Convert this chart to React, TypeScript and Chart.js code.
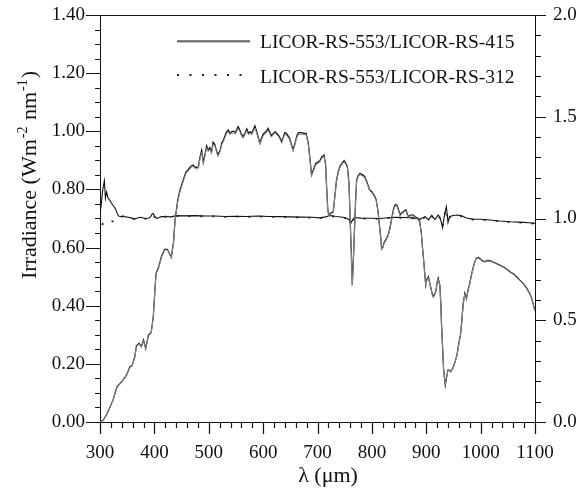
import { useEffect, useRef } from "react";
import { Chart, registerables } from "chart.js";

Chart.register(...registerables);

// Global irradiance spectra (W m^-2 nm^-1) sampled at these wavelengths (nm)
const wavelengths = [
  300, 306, 312, 318, 324, 331, 340, 349, 355, 359, 364, 367, 372, 376, 380, 384, 389, 394, 398, 401,
  403, 408, 413, 419, 424, 431, 435, 438, 443, 447, 453, 458, 462, 467, 471, 476, 481, 484, 487, 490,
  493, 496, 499, 502, 505, 508, 511, 514, 517, 521, 524, 527, 530, 533, 536, 539, 542, 545, 549, 554,
  557, 560, 563, 567, 570, 573, 576, 579, 582, 585, 588, 591, 594, 597, 600, 603, 606, 609, 612, 615,
  619, 622, 625, 628, 631, 634, 637, 640, 644, 649, 652, 655, 658, 662, 665, 670, 675, 679, 683, 686,
  689, 693, 697, 700, 704, 708, 712, 715, 717, 719, 721, 725, 729, 732, 735, 738, 741, 745, 749, 752,
  755, 758, 760, 762, 764, 766, 768, 770, 772, 775, 778, 783, 787, 791, 796, 800, 802, 805, 808, 811,
  813, 816, 818, 820, 822, 826, 830, 833, 836, 840, 843, 846, 849, 852, 855, 858, 861, 863, 865, 867,
  871, 876, 880, 885, 888, 891, 893, 896, 899, 901, 904, 906, 908, 911, 913, 916, 918, 920, 922, 925,
  927, 928, 930, 932, 935, 937, 940, 943, 945, 949, 953, 957, 960, 963, 965, 968, 971, 974, 977, 980,
  983, 986, 989, 992, 995, 998, 1003, 1008, 1012, 1017, 1025, 1035, 1045, 1054, 1060, 1066, 1072, 1078, 1084, 1090,
  1094, 1098, 1100,
];

// LICOR-RS-553
const irradiance553 = [
  0.000, 0.007, 0.025, 0.050, 0.076, 0.120, 0.139, 0.162, 0.190, 0.194, 0.225, 0.262, 0.270, 0.259, 0.282, 0.253, 0.299, 0.307, 0.362, 0.454,
  0.511, 0.534, 0.569, 0.594, 0.594, 0.566, 0.615, 0.695, 0.764, 0.798, 0.832, 0.860, 0.867, 0.880, 0.884, 0.875, 0.878, 0.913, 0.935, 0.893,
  0.920, 0.950, 0.935, 0.944, 0.928, 0.962, 0.955, 0.935, 0.918, 0.935, 0.960, 0.970, 0.985, 0.999, 1.004, 0.993, 0.998, 1.000, 0.996, 1.016,
  1.005, 0.990, 0.981, 0.995, 1.008, 0.993, 0.998, 0.993, 1.006, 1.018, 1.000, 0.981, 0.959, 0.975, 0.990, 0.995, 1.000, 1.010, 0.998, 0.985,
  0.993, 0.999, 0.993, 0.987, 0.978, 0.964, 0.980, 0.996, 0.990, 0.975, 0.955, 0.936, 0.955, 0.985, 0.995, 0.995, 0.993, 0.993, 0.960, 0.910,
  0.850, 0.870, 0.890, 0.893, 0.898, 0.912, 0.918, 0.885, 0.800, 0.729, 0.712, 0.720, 0.723, 0.780, 0.832, 0.860, 0.878, 0.890, 0.899, 0.890,
  0.878, 0.820, 0.700, 0.592, 0.471, 0.560, 0.660, 0.760, 0.832, 0.848, 0.855, 0.850, 0.844, 0.825, 0.798, 0.792, 0.786, 0.777, 0.764, 0.730,
  0.695, 0.640, 0.595, 0.600, 0.615, 0.628, 0.643, 0.665, 0.695, 0.735, 0.748, 0.746, 0.730, 0.712, 0.720, 0.723, 0.728, 0.729, 0.716, 0.706,
  0.712, 0.712, 0.705, 0.701, 0.689, 0.650, 0.603, 0.540, 0.471, 0.490, 0.500, 0.482, 0.465, 0.440, 0.431, 0.440, 0.454, 0.480, 0.494, 0.471,
  0.400, 0.340, 0.260, 0.179, 0.127, 0.150, 0.179, 0.178, 0.173, 0.185, 0.207, 0.235, 0.271, 0.300, 0.340, 0.408, 0.443, 0.425, 0.455, 0.477,
  0.505, 0.529, 0.550, 0.563, 0.566, 0.563, 0.555, 0.551, 0.556, 0.555, 0.548, 0.540, 0.530, 0.517, 0.510, 0.500, 0.488, 0.477, 0.462, 0.443,
  0.425, 0.397, 0.383,
];

// LICOR-RS-415
const irradiance415 = [
  0.000, 0.006, 0.024, 0.049, 0.075, 0.118, 0.138, 0.161, 0.188, 0.193, 0.223, 0.260, 0.268, 0.258, 0.280, 0.252, 0.297, 0.305, 0.360, 0.451,
  0.508, 0.531, 0.566, 0.591, 0.592, 0.564, 0.612, 0.690, 0.758, 0.792, 0.826, 0.855, 0.862, 0.874, 0.879, 0.870, 0.873, 0.906, 0.928, 0.888,
  0.914, 0.944, 0.930, 0.938, 0.923, 0.955, 0.950, 0.930, 0.913, 0.930, 0.954, 0.964, 0.979, 0.992, 0.998, 0.988, 0.992, 0.994, 0.990, 1.009,
  0.999, 0.985, 0.976, 0.989, 1.002, 0.988, 0.992, 0.988, 1.000, 1.011, 0.994, 0.976, 0.954, 0.970, 0.984, 0.989, 0.994, 1.003, 0.992, 0.980,
  0.987, 0.993, 0.988, 0.982, 0.973, 0.959, 0.975, 0.990, 0.984, 0.970, 0.950, 0.931, 0.950, 0.979, 0.989, 0.990, 0.988, 0.988, 0.955, 0.905,
  0.846, 0.866, 0.885, 0.888, 0.893, 0.907, 0.913, 0.880, 0.796, 0.726, 0.709, 0.717, 0.720, 0.776, 0.828, 0.856, 0.874, 0.886, 0.895, 0.886,
  0.874, 0.816, 0.697, 0.590, 0.470, 0.558, 0.657, 0.756, 0.828, 0.844, 0.851, 0.846, 0.840, 0.821, 0.795, 0.789, 0.783, 0.774, 0.761, 0.727,
  0.692, 0.638, 0.593, 0.598, 0.612, 0.625, 0.640, 0.662, 0.692, 0.731, 0.744, 0.742, 0.727, 0.709, 0.717, 0.720, 0.725, 0.726, 0.713, 0.703,
  0.709, 0.709, 0.702, 0.698, 0.686, 0.648, 0.601, 0.538, 0.470, 0.488, 0.498, 0.480, 0.463, 0.438, 0.429, 0.438, 0.452, 0.478, 0.492, 0.469,
  0.398, 0.339, 0.259, 0.178, 0.127, 0.149, 0.178, 0.177, 0.172, 0.184, 0.206, 0.234, 0.270, 0.299, 0.339, 0.406, 0.441, 0.423, 0.453, 0.475,
  0.503, 0.527, 0.548, 0.561, 0.564, 0.561, 0.553, 0.550, 0.554, 0.553, 0.547, 0.538, 0.528, 0.515, 0.508, 0.498, 0.486, 0.475, 0.460, 0.441,
  0.423, 0.395, 0.381,
];

// Instrument ratios plotted against the right-hand axis
const ratioWavelengths = [
  300, 302, 305, 308, 310, 312, 315, 318, 321, 325, 328, 331, 334, 338, 343, 347, 352, 358, 364, 370,
  376, 382, 389, 393, 396, 398, 401, 404, 408, 413, 420, 430, 441, 455, 475, 495, 511, 530, 550, 570,
  590, 610, 630, 650, 670, 690, 704, 715, 723, 735, 750, 758, 761, 764, 768, 780, 800, 815, 830, 845,
  860, 875, 888, 893, 898, 904, 910, 916, 922, 926, 930, 934, 937, 940, 943, 949, 958, 965, 974, 985,
  1000, 1017, 1035, 1054, 1078, 1090, 1100,
];

const ratio553to415 = [
  1.030, 1.060, 1.140, 1.185, 1.100, 1.130, 1.100, 1.090, 1.075, 1.060, 1.050, 1.030, 1.012, 1.010, 1.012, 1.008, 1.006, 1.002, 0.998, 1.004,
  1.006, 1.000, 1.001, 1.008, 1.022, 1.025, 1.008, 1.001, 1.004, 1.009, 1.010, 1.008, 1.014, 1.013, 1.014, 1.012, 1.012, 1.010, 1.011, 1.010,
  1.012, 1.010, 1.009, 1.008, 1.007, 1.006, 1.003, 1.008, 1.015, 1.010, 1.005, 0.995, 0.975, 0.990, 1.005, 1.002, 1.001, 1.000, 1.004, 1.006,
  1.005, 1.003, 0.996, 1.002, 1.009, 0.993, 1.015, 0.995, 1.017, 1.000, 0.955, 1.025, 1.058, 0.980, 1.009, 1.015, 1.017, 1.013, 1.002, 0.997,
  0.996, 0.993, 0.988, 0.984, 0.981, 0.979, 0.976,
];

const ratio553to312 = [
  0.910, 0.935, 0.975, 0.984, 0.982, 0.980, 0.986, 0.990, 0.987, 0.985, 0.984, 0.995, 1.005, 1.008, 1.010, 1.007, 1.005, 1.001, 0.997, 1.003,
  1.005, 0.999, 1.000, 1.006, 1.018, 1.020, 1.006, 1.000, 1.003, 1.008, 1.009, 1.007, 1.012, 1.011, 1.012, 1.010, 1.010, 1.008, 1.009, 1.008,
  1.010, 1.008, 1.007, 1.006, 1.005, 1.004, 1.001, 1.006, 1.012, 1.008, 1.003, 0.990, 0.979, 0.988, 1.003, 1.000, 0.999, 0.998, 1.002, 1.004,
  1.003, 1.001, 0.994, 1.000, 1.006, 0.991, 1.012, 0.993, 1.014, 0.998, 0.958, 1.020, 1.050, 0.982, 1.006, 1.012, 1.014, 1.011, 1.000, 0.995,
  0.994, 0.991, 0.986, 0.982, 0.979, 0.977, 0.974,
];

const irradianceTicks = [0, 0.2, 0.4, 0.6, 0.8, 1.0, 1.2, 1.4];
const ratioTicks = [0, 0.5, 1.0, 1.5, 2.0];
const wavelengthTicks = [300, 400, 500, 600, 700, 800, 900, 1000, 1100];

const legendLabels = ["LICOR-RS-553/LICOR-RS-415", "LICOR-RS-553/LICOR-RS-312"];

const SERIF = "'Liberation Serif', 'Times New Roman', serif";
const INK = "#111";

const toPoints = (xs: number[], ys: number[]) => xs.map((x, i) => ({ x, y: ys[i] }));

// Fixed axis band sizes; label overhang is not allowed to push the plot area in
const fixWidth = (w: number) => (s: any) => {
  s.width = w;
  s.paddingTop = 0;
  s.paddingBottom = 0;
};

// Minor/major tick marks, frame top, legend and axis titles
const decorations = {
  id: "decorations",
  afterDraw(chart: any) {
    const { ctx, chartArea, scales } = chart;
    const { left, right, top, bottom } = chartArea;
    const xs = scales.x;
    const ys = scales.y;
    const y1 = scales.y1;
    ctx.save();
    ctx.setLineDash([]);
    ctx.lineCap = "butt";
    ctx.strokeStyle = INK;
    ctx.lineWidth = 1.2;

    // frame top
    ctx.beginPath();
    ctx.moveTo(left, Math.round(top) + 0.5);
    ctx.lineTo(right, Math.round(top) + 0.5);
    ctx.stroke();

    ctx.beginPath();
    // left axis: major every 0.2, minor every 0.05
    for (let i = 0; i <= 28; i++) {
      const py = Math.round(ys.getPixelForValue(i * 0.05)) + 0.5;
      const len = i % 4 === 0 ? 14 : 5;
      ctx.moveTo(left - len, py);
      ctx.lineTo(left, py);
    }
    // right axis: major every 0.5, minor every 0.1
    for (let i = 0; i <= 20; i++) {
      const py = Math.round(y1.getPixelForValue(i * 0.1)) + 0.5;
      const len = i % 5 === 0 ? 11 : 6;
      ctx.moveTo(right, py);
      ctx.lineTo(right + len, py);
    }
    // bottom axis: major every 100 nm, minor every 20 nm
    for (let w = 300; w <= 1100; w += 20) {
      const px = Math.round(xs.getPixelForValue(w)) + 0.5;
      const len = (w - 300) % 100 === 0 ? 12 : 6;
      ctx.moveTo(px, bottom);
      ctx.lineTo(px, bottom + len);
    }
    ctx.stroke();

    // legend
    ctx.lineWidth = 1;
    ctx.beginPath();
    ctx.strokeStyle = "#8a8a8a";
    ctx.moveTo(177, 42);
    ctx.lineTo(250, 42);
    ctx.stroke();
    ctx.beginPath();
    ctx.strokeStyle = INK;
    ctx.lineWidth = 1.2;
    ctx.moveTo(177, 41);
    ctx.lineTo(250, 41);
    ctx.stroke();
    ctx.beginPath();
    ctx.setLineDash([2, 10.5]);
    ctx.strokeStyle = "#222";
    ctx.lineWidth = 1.8;
    ctx.moveTo(177, 75);
    ctx.lineTo(252, 75);
    ctx.stroke();
    ctx.setLineDash([]);

    ctx.fillStyle = INK;
    ctx.font = `19.5px ${SERIF}`;
    ctx.textAlign = "left";
    ctx.textBaseline = "middle";
    ctx.fillText(legendLabels[0], 260, 43);
    ctx.fillText(legendLabels[1], 260, 78);

    // x-axis title
    ctx.font = `22px ${SERIF}`;
    ctx.textAlign = "center";
    ctx.textBaseline = "alphabetic";
    ctx.fillText("\u03bb (\u03bcm)", 328, 482);

    // y-axis title with superscripts, rotated
    ctx.translate(36, 175);
    ctx.rotate(-Math.PI / 2);
    const parts: [string, boolean][] = [
      ["Irradiance (Wm", false],
      ["-2", true],
      [" nm", false],
      ["-1", true],
      [")", false],
    ];
    const big = `22px ${SERIF}`;
    const small = `14px ${SERIF}`;
    let total = 0;
    for (const [t, sup] of parts) {
      ctx.font = sup ? small : big;
      total += ctx.measureText(t).width + (sup ? 2 : 0);
    }
    let cx = -total / 2;
    ctx.textAlign = "left";
    for (const [t, sup] of parts) {
      ctx.font = sup ? small : big;
      const w = ctx.measureText(t).width;
      ctx.fillText(t, cx + (sup ? 1 : 0), sup ? -9 : 0);
      cx += w + (sup ? 2 : 0);
    }
    ctx.restore();
  },
};

export default function App() {
  const canvasRef = useRef<HTMLCanvasElement | null>(null);

  useEffect(() => {
    document.body.style.margin = "0";
    const canvas = canvasRef.current;
    if (!canvas) return;
    Chart.defaults.font.family = SERIF;

    const chart = new Chart(canvas, {
      type: "line",
      data: {
        datasets: [
          {
            label: "LICOR-RS-415",
            data: toPoints(wavelengths, irradiance415),
            yAxisID: "y",
            borderColor: "#8a8a8a",
            borderWidth: 1,
            pointRadius: 0,
            tension: 0,
          },
          {
            label: "LICOR-RS-553",
            data: toPoints(wavelengths, irradiance553),
            yAxisID: "y",
            borderColor: INK,
            borderWidth: 1.25,
            pointRadius: 0,
            tension: 0,
          },
          {
            label: legendLabels[1],
            data: toPoints(ratioWavelengths, ratio553to312),
            yAxisID: "y1",
            borderColor: "#222",
            borderWidth: 1.8,
            borderDash: [2, 10],
            pointRadius: 0,
            tension: 0,
          },
          {
            label: legendLabels[0],
            data: toPoints(ratioWavelengths, ratio553to415),
            yAxisID: "y1",
            borderColor: INK,
            borderWidth: 1.1,
            pointRadius: 0,
            tension: 0,
          },
        ],
      },
      options: {
        responsive: false,
        animation: false,
        events: [],
        layout: { padding: { top: 15, left: 0, right: 0, bottom: 0 } },
        plugins: { legend: { display: false }, tooltip: { enabled: false } },
        scales: {
          x: {
            type: "linear",
            min: 300,
            max: 1100,
            afterFit: (s: any) => {
              s.height = 74;
              s.paddingLeft = 0;
              s.paddingRight = 0;
            },
            afterBuildTicks: (s: any) => {
              s.ticks = wavelengthTicks.map((value) => ({ value }));
            },
            grid: { display: false, drawTicks: false },
            border: { display: true, color: INK, width: 1 },
            ticks: {
              autoSkip: false,
              maxRotation: 0,
              padding: 20,
              color: INK,
              font: { size: 19, family: SERIF },
              callback: (v: any) => String(v),
            },
          },
          y: {
            type: "linear",
            position: "left",
            min: 0,
            max: 1.4,
            afterFit: fixWidth(100),
            afterBuildTicks: (s: any) => {
              s.ticks = irradianceTicks.map((value) => ({ value }));
            },
            grid: { display: false, drawTicks: false },
            border: { display: true, color: INK, width: 1 },
            ticks: {
              autoSkip: false,
              padding: 15,
              color: INK,
              font: { size: 19, family: SERIF },
              callback: (v: any) => Number(v).toFixed(2),
            },
          },
          y1: {
            type: "linear",
            position: "right",
            min: 0,
            max: 2,
            afterFit: fixWidth(52),
            afterBuildTicks: (s: any) => {
              s.ticks = ratioTicks.map((value) => ({ value }));
            },
            grid: { display: false, drawTicks: false },
            border: { display: true, color: INK, width: 1 },
            ticks: {
              autoSkip: false,
              padding: 18,
              color: INK,
              font: { size: 19, family: SERIF },
              callback: (v: any) => Number(v).toFixed(1),
            },
          },
        },
      },
      plugins: [decorations],
    });

    return () => chart.destroy();
  }, []);

  return (
    <div style={{ width: 587, height: 496, position: "relative", background: "#fff" }}>
      <canvas ref={canvasRef} width={587} height={496} style={{ display: "block" }} />
    </div>
  );
}
